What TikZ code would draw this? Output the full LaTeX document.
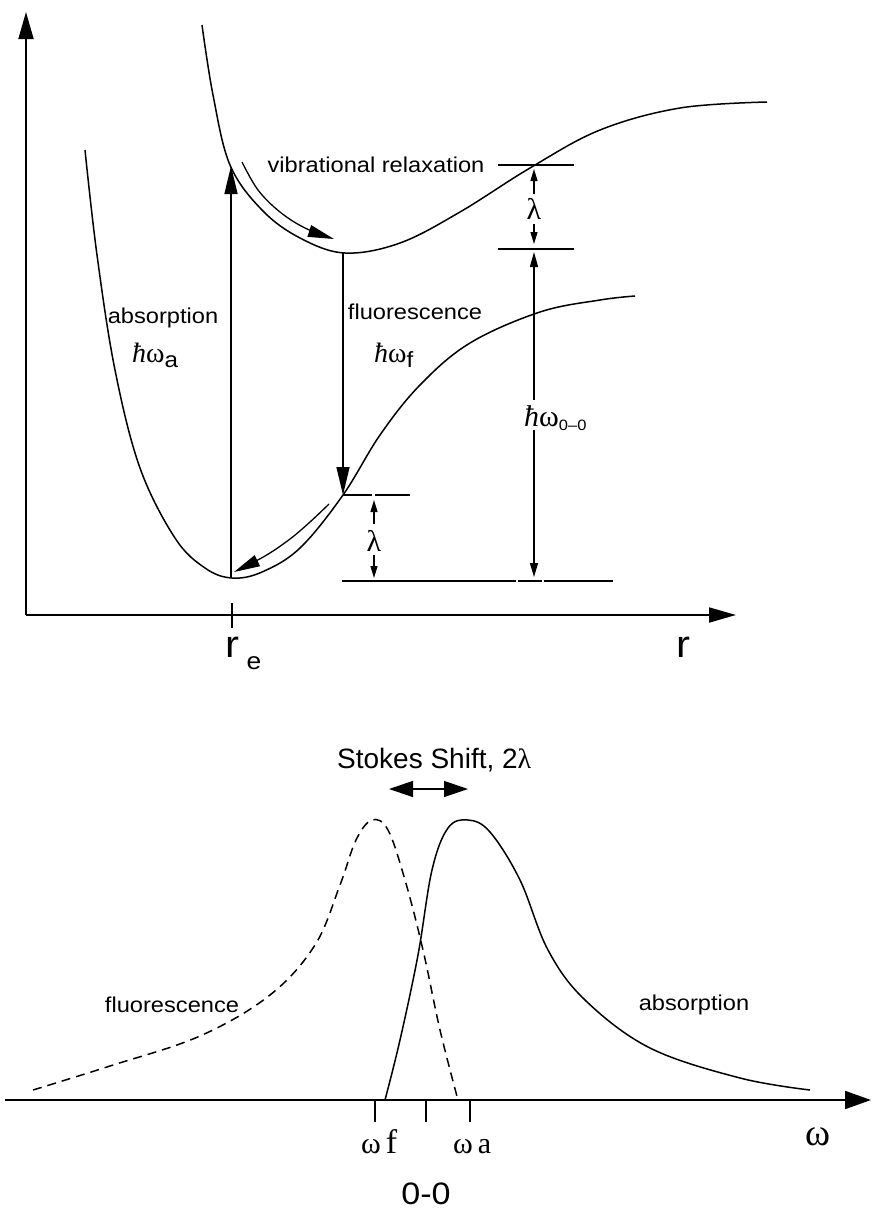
\documentclass[tikz,border=0pt]{standalone}
\usepackage{fontspec}
\setmainfont{Liberation Sans}
\newfontfamily\lab[FakeStretch=1.1]{Liberation Sans}
\newfontfamily\serif{Liberation Serif}
\usetikzlibrary{arrows.meta}
\newcommand{\hb}{{\serif\itshape ħ}}
\newcommand{\om}{{\serif ω}}
\newcommand{\lam}{{\serif λ}}
\begin{document}
\begin{tikzpicture}[x=1pt,y=-1pt,
  curve/.style={line width=1.5pt},
  axis/.style={line width=1.8pt},
  thin/.style={line width=1.3pt},
  bigtip/.style={-{Triangle[length=27pt,width=15pt]}},
  midtip/.style={-{Triangle[length=28pt,width=13pt]}},
  smalltip/.style={-{Triangle[length=12pt,width=7pt]}},
  lbl/.style={font=\lab\fontsize{21.5}{24}\selectfont, inner sep=0pt},
  sym/.style={font=\fontsize{28}{30}\selectfont, inner sep=0pt}]
\useasboundingbox (0,0) rectangle (873,1211);

% ---------- top plot ----------
\coordinate (O) at (26,615);
\coordinate (Ytop) at (26,12);
\coordinate (Xend) at (736,615);
\draw[axis,bigtip] (O) -- (Ytop);
\draw[axis,bigtip] (O) -- (Xend);
\draw[axis] (232,603) -- (232,628);
\node[font=\lab\fontsize{38}{40}\selectfont,inner sep=0pt,anchor=base] (re) at (232,657) {r};
\node[font=\lab\fontsize{24}{26}\selectfont,inner sep=0pt,anchor=base] (ree) at (254,669) {e};
\node[font=\lab\fontsize{38}{40}\selectfont,inner sep=0pt,anchor=base] (rlab) at (683,657) {r};

% ground state curve
\draw[curve] plot[smooth,tension=0.6] coordinates {(85,150) (97,255) (115,370) (140,468) (175,538) (205,568) (232,578) (262,572) (300,548) (343,495) (380,435) (420,385) (470,343) (540,312) (600,300) (635,296)};
% excited state curve
\draw[curve] plot[smooth,tension=0.6] coordinates {(202,25) (213,95) (230,165) (262,210) (300,238) (345,253) (400,243) (460,212) (530,168) (600,130) (680,108) (767,102)};

% absorption arrow
\coordinate (Aa) at (231,578);
\coordinate (Ab) at (231,166);
\draw[thin,midtip] (Aa) -- (Ab);
% vibrational relaxation arrow
\draw[thin,-{Triangle[length=26pt,width=12pt]}] plot[smooth,tension=0.6] coordinates {(242,162) (258,190) (280,212) (305,228) (334,239)};
\node[lbl] (vr) at (376,165) {vibrational relaxation};

% fluorescence arrow
\coordinate (Fa) at (343,253);
\coordinate (Fb) at (343,495);
\draw[thin,midtip] (Fa) -- (Fb);
% lower relaxation arrow
\draw[thin,-{Triangle[length=26pt,width=12pt]}] plot[smooth,tension=0.6] coordinates {(329,504) (310,522) (290,539) (265,556) (234,572)};

\node[lbl] (abs) at (163,318) {absorption};
\node[sym,anchor=base west] (hwa) at (132,362) {\hb\om\raisebox{-5pt}{\lab\fontsize{22}{24}\selectfont a}};
\node[lbl] (flu) at (415,312) {fluorescence};
\node[sym,anchor=base west] (hwf) at (374,362) {\hb\om\raisebox{-5pt}{\lab\fontsize{22}{24}\selectfont f}};

% lambda top
\draw[thin] (498,165) -- (574,165);
\draw[thin] (498,249) -- (574,249);
\draw[thin,smalltip] (534,194) -- (534,169);
\draw[thin,smalltip] (534,224) -- (534,244);
\node[sym,font=\fontsize{30}{32}\selectfont] (lam1) at (534,209) {\lam};
% hbar omega 0-0
\draw[thin,-{Triangle[length=15pt,width=8pt]}] (534,400) -- (534,252);
\draw[thin,-{Triangle[length=14pt,width=8pt]}] (534,430) -- (534,577);
\node[sym,anchor=base west,font=\fontsize{30}{32}\selectfont] (hw00) at (524,426) {\hb\om\raisebox{-4pt}{\lab\fontsize{15}{17}\selectfont 0–0}};

% lambda bottom
\draw[thin] (343,495) -- (372,495);
\draw[thin] (375,495) -- (410,495);
\draw[thin,smalltip] (374,524) -- (374,500);
\draw[thin,smalltip] (374,555) -- (374,578);
\node[sym,font=\fontsize{30}{32}\selectfont] (lam2) at (374,541) {\lam};
\draw[thin] (342,581) -- (516,581);
\draw[thin] (518,581) -- (542,581);
\draw[thin] (544,581) -- (613,581);

% ---------- bottom plot ----------
\coordinate (BO) at (5,1100);
\coordinate (BX) at (871,1100);
\draw[axis,-{Triangle[length=26pt,width=18pt]}] (BO) -- (BX);
\foreach \x in {375,426,470} \draw[axis] (\x,1100) -- (\x,1122);

% fluorescence dashed
\draw[curve,dash pattern=on 9pt off 6pt] plot[smooth,tension=0.6] coordinates {(33,1090) (110,1066) (200,1036) (270,995) (315,945) (340,885) (356,840) (372,820) (388,830) (405,880) (423,950) (440,1030) (458,1100)};
% absorption solid
\draw[curve] plot[smooth,tension=0.6] coordinates {(385,1100) (400,1040) (418,955) (432,870) (448,828) (468,820) (490,832) (520,880) (548,950) (585,1000) (650,1048) (740,1078) (810,1090)};

\node[font=\fontsize{28}{30}\selectfont,inner sep=0pt,anchor=base west] (st) at (337,768) {Stokes Shift, 2\lam};
\coordinate (Sa) at (389,789);
\coordinate (Sb) at (468,789);
\draw[thin,{Triangle[length=24pt,width=16pt]}-{Triangle[length=24pt,width=16pt]}] (Sa) -- (Sb);

\node[lbl] (flu2) at (172,1005) {fluorescence};
\node[lbl] (abs2) at (694,1005) {absorption};

\node[font=\serif\fontsize{30}{32}\selectfont,inner sep=0pt,anchor=base west] (wf) at (361,1153) {ω\,{\fontsize{34}{36}\selectfont f}};
\node[font=\serif\fontsize{30}{32}\selectfont,inner sep=0pt,anchor=base west] (wa) at (453,1153) {ω\,a};
\node[font=\lab\fontsize{31}{33}\selectfont,inner sep=0pt,anchor=base] (zz) at (426,1204) {0-0};
\node[font=\serif\fontsize{38}{40}\selectfont,inner sep=0pt,anchor=base] (wl) at (818,1145) {ω};
\end{tikzpicture}
\end{document}
